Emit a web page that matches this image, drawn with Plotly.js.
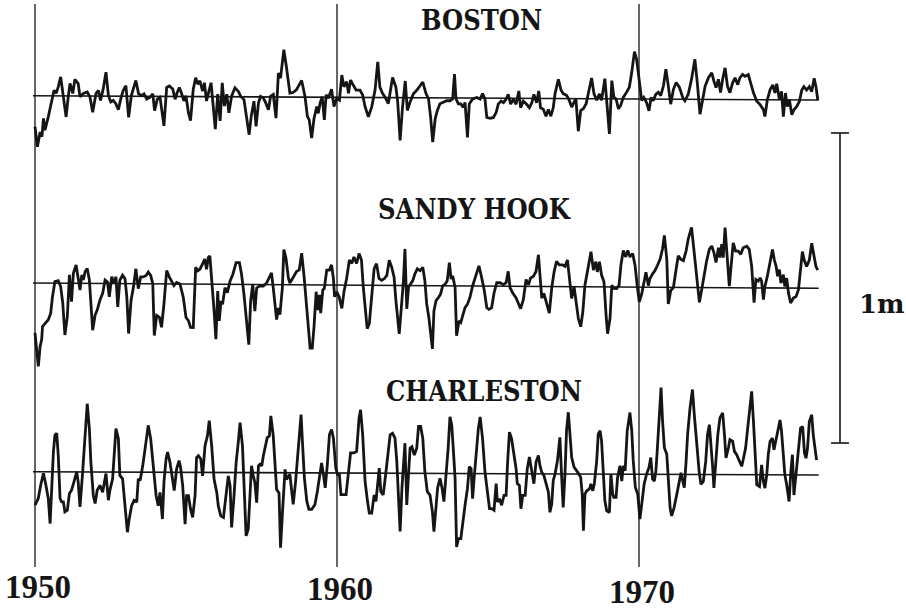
<!DOCTYPE html>
<html><head><meta charset="utf-8">
<script src="https://cdn.plot.ly/plotly-3.0.1.min.js"></script>
<style>html,body{margin:0;padding:0;background:#fff;}#chart{width:906px;height:612px;}</style>
</head><body><div id="chart"></div>
<script>
// ---------- DATA (time in decimal years, monthly mean sea level anomaly in cm) ----------
const stationNames = ['BOSTON', 'SANDY HOOK', 'CHARLESTON'];
const yearTicks = [1950, 1960, 1970];
const scaleLabel = '1m';
const scaleLengthCm = 100;

const bostonT = [
1950.00,1950.08,1950.17,1950.23,1950.28,1950.33,1950.44,1950.55,1950.63,1950.70,
1950.77,1950.85,1950.94,1951.03,1951.10,1951.16,1951.25,1951.32,1951.43,1951.49,
1951.60,1951.73,1951.82,1951.91,1952.02,1952.10,1952.17,1952.26,1952.35,1952.43,
1952.51,1952.59,1952.68,1952.76,1952.84,1952.92,1953.01,1953.10,1953.19,1953.28,
1953.34,1953.43,1953.53,1953.61,1953.70,1953.81,1953.90,1953.96,1954.05,1954.14,
1954.27,1954.36,1954.45,1954.56,1954.64,1954.71,1954.78,1954.86,1954.93,1955.00,
1955.08,1955.15,1955.24,1955.32,1955.39,1955.46,1955.55,1955.61,1955.68,1955.76,
1955.83,1955.88,1955.97,1956.05,1956.13,1956.20,1956.27,1956.35,1956.42,1956.51,
1956.62,1956.73,1956.81,1956.92,1957.01,1957.09,1957.16,1957.25,1957.32,1957.40,
1957.47,1957.56,1957.64,1957.73,1957.80,1957.89,1957.98,1958.06,1958.13,1958.24,1958.33,
1958.44,1958.55,1958.66,1958.83,1958.94,1959.02,1959.08,1959.16,1959.24,1959.33,
1959.38,1959.44,1959.51,1959.58,1959.64,1959.71,1959.82,1959.90,1959.99,1960.08,
1960.16,1960.23,1960.32,1960.38,1960.45,1960.54,1960.63,1960.76,1960.85,1960.93,
1961.04,1961.15,1961.26,1961.35,1961.42,1961.51,1961.59,1961.70,1961.84,1961.95,
1962.01,1962.09,1962.17,1962.26,1962.33,1962.42,1962.53,1962.64,1962.75,1962.84,
1962.95,1963.03,1963.10,1963.17,1963.25,1963.32,1963.41,1963.52,1963.63,1963.74,
1963.83,1963.89,1963.94,1964.02,1964.10,1964.18,1964.24,1964.32,1964.38,1964.49,
1964.63,1964.74,1964.82,1964.90,1964.96,1965.07,1965.18,1965.27,1965.34,1965.43,
1965.51,1965.60,1965.67,1965.75,1965.84,1965.93,1966.02,1966.08,1966.17,1966.28,
1966.37,1966.45,1966.52,1966.61,1966.68,1966.74,1966.83,1966.92,1967.00,1967.08,1967.16,
1967.22,1967.33,1967.42,1967.49,1967.60,1967.69,1967.77,1967.85,1967.91,1967.99,
1968.07,1968.16,1968.25,1968.32,1968.43,1968.51,1968.60,1968.69,1968.76,1968.87,
1968.95,1969.02,1969.10,1969.17,1969.24,1969.32,1969.39,1969.48,1969.59,1969.68,
1969.76,1969.85,1969.92,1970.01,1970.09,1970.16,1970.25,1970.33,1970.40,1970.47,
1970.56,1970.64,1970.72,1970.81,1970.89,1970.97,1971.05,1971.14,1971.23,1971.34,
1971.45,1971.52,1971.63,1971.74,1971.85,1971.93,1972.02,1972.11,1972.19,1972.30,
1972.41,1972.48,1972.55,1972.63,1972.70,1972.77,1972.85,1972.93,1973.01,1973.10,
1973.18,1973.27,1973.34,1973.43,1973.51,1973.62,1973.70,1973.79,1973.90,1974.01,
1974.12,1974.17,1974.25,1974.34,1974.43,1974.50,1974.56,1974.65,1974.72,1974.78,
1974.85,1974.91,1974.98,1975.06,1975.13,1975.22,1975.31,1975.39,1975.46,1975.55,
1975.64,1975.72,1975.80,1975.86,1975.92];
const bostonV = [
-10.0,-16.5,-11.7,-13.2,-7.3,-11.1,-6.8,-1.9,1.8,0.8,
2.9,6.1,-0.9,-6.8,-0.3,4.0,0.8,5.3,4.0,-0.3,
0.8,1.3,-0.3,-5.2,0.8,1.8,-1.4,2.4,7.7,0.2,
-1.9,-1.4,-2.5,-4.4,-0.9,1.8,3.4,-6.8,0.2,2.9,
5.1,0.8,0.2,0.8,-0.9,-0.3,0.8,-4.6,-0.9,-0.3,
-9.5,2.9,3.4,2.4,-0.9,1.3,2.9,0.8,-1.4,0.2,
-5.2,-7.8,2.4,6.1,4.0,5.1,1.8,4.5,-1.4,1.8,
4.5,-0.9,-10.5,0.8,-7.8,4.5,-3.0,0.8,-5.2,0.2,
2.9,1.8,0.2,-0.9,-6.8,-12.2,-6.2,-1.4,-9.5,-1.9,
0.2,-0.3,-1.9,-4.1,0.2,0.8,-6.8,7.7,6.1,15.3,9.4,
1.3,1.5,2.4,5.4,0.2,-6.2,-7.3,-13.2,-6.8,-3.0,
-5.2,-1.9,0.2,-7.3,0.8,-0.3,2.6,-3.0,-0.3,-0.9,
7.2,3.4,5.1,1.3,5.6,4.0,2.4,2.4,0.8,-3.0,
-6.2,-3.0,2.4,11.5,3.4,1.3,0.2,-1.9,6.5,3.4,
-1.4,-13.8,-3.0,5.4,-4.1,-1.4,1.3,2.4,4.0,5.1,
1.3,-0.3,-6.2,-14.3,-6.8,-4.1,-1.9,-1.4,-0.9,-0.9,
-0.3,7.7,-0.3,-1.9,-1.9,-3.0,-1.4,-12.7,-1.9,-0.3,
0.2,-0.3,1.5,-0.3,-6.2,-6.5,-6.2,-4.6,-1.9,-0.9,
-1.4,-0.3,1.3,-1.9,-0.3,-1.9,2.4,-3.0,-0.9,-1.9,
-3.0,-1.4,1.3,-1.4,2.4,-3.0,-3.5,-5.7,-3.5,-5.7,-3.0,
1.6,6.2,2.7,1.6,1.1,-0.5,-2.7,-1.1,0.0,-10.5,
-3.8,-3.2,-1.6,1.6,6.7,1.6,-0.5,1.6,-0.5,6.5,
-2.2,-11.3,5.9,0.5,0.0,-3.2,-2.2,0.5,2.2,3.8,
8.6,15.3,12.9,5.4,-0.5,0.5,-1.1,-3.8,0.5,-0.5,
1.6,2.2,1.1,4.3,9.7,4.3,-1.6,3.2,5.4,3.8,
0.5,-0.5,1.6,6.5,12.9,5.4,-4.8,0.0,4.3,7.0,
8.6,5.9,3.8,6.5,2.2,6.5,10.2,4.3,2.2,5.4,
7.0,4.8,7.0,8.1,7.5,8.1,5.4,2.2,-0.5,-1.6,
-3.2,-5.4,0.0,3.2,4.8,2.2,5.2,0.0,2.7,-5.4,
2.2,-2.2,0.0,-4.8,-3.2,-2.2,-0.5,3.2,4.3,3.2,
4.3,2.7,7.0,4.3,0.0];

const sandyT = [
1950.00,1950.06,1950.11,1950.17,1950.22,1950.25,1950.33,1950.44,1950.52,1950.58,
1950.66,1950.77,1950.85,1950.92,1950.99,1951.07,1951.14,1951.21,1951.27,1951.36,
1951.43,1951.49,1951.55,1951.60,1951.66,1951.73,1951.80,1951.84,1951.91,1951.99,
1952.06,1952.15,1952.24,1952.32,1952.40,1952.46,1952.54,1952.62,1952.68,1952.74,
1952.81,1952.90,1952.98,1953.04,1953.10,1953.18,1953.26,1953.34,1953.42,1953.50,
1953.59,1953.68,1953.75,1953.83,1953.90,1953.95,1954.03,1954.12,1954.19,1954.27,
1954.36,1954.45,1954.53,1954.60,1954.69,1954.80,1954.91,1955.00,1955.08,1955.15,
1955.24,1955.32,1955.39,1955.46,1955.55,1955.62,1955.68,1955.74,1955.79,1955.85,
1955.93,1955.99,1956.05,1956.10,1956.16,1956.21,1956.29,1956.37,1956.46,1956.55,
1956.66,1956.77,1956.84,1956.92,1957.01,1957.08,1957.14,1957.21,1957.28,1957.34,
1957.43,1957.56,1957.67,1957.76,1957.83,1957.89,1957.95,1958.00,1958.06,1958.11,
1958.19,1958.24,1958.31,1958.39,
1958.44,1958.55,1958.66,1958.75,1958.83,1958.91,1958.97,1959.05,1959.11,1959.18,
1959.24,1959.31,1959.36,1959.42,1959.46,1959.53,1959.58,1959.66,1959.75,1959.82,
1959.88,1959.92,1959.99,1960.07,1960.16,1960.23,1960.32,1960.41,1960.49,1960.56,
1960.65,1960.73,1960.81,1960.87,1960.94,1961.00,1961.07,1961.15,1961.23,1961.31,
1961.39,1961.48,1961.57,1961.65,1961.73,1961.81,1961.89,1961.95,1962.01,1962.06,
1962.14,1962.20,1962.25,1962.31,1962.37,1962.44,1962.51,1962.58,1962.66,1962.75,
1962.84,1962.91,1962.97,1963.04,1963.10,1963.16,1963.21,1963.28,1963.36,1963.43,
1963.50,1963.58,1963.65,1963.72,1963.78,1963.83,1963.91,1963.96,1964.04,1964.10,
1964.16,1964.24,1964.32,1964.40,1964.49,1964.60,1964.70,1964.79,1964.88,1964.96,
1965.03,1965.12,1965.20,1965.29,1965.40,1965.51,1965.60,1965.67,1965.73,1965.82,
1965.93,1966.00,1966.08,1966.17,1966.26,1966.34,1966.41,1966.50,1966.59,1966.67,
1966.72,1966.78,1966.85,1966.94,1967.03,
1967.11,1967.19,1967.27,1967.36,1967.47,1967.55,1967.63,1967.69,1967.77,1967.85,
1967.91,1967.99,1968.07,1968.14,1968.21,1968.29,1968.36,1968.41,1968.49,1968.57,
1968.62,1968.69,1968.76,1968.84,1968.91,1968.96,1969.04,1969.10,1969.17,1969.26,
1969.34,1969.40,1969.48,1969.56,1969.63,1969.70,1969.79,1969.87,1969.94,1970.01,
1970.09,1970.17,1970.23,1970.31,1970.36,1970.45,1970.53,1970.61,1970.70,1970.78,
1970.84,1970.92,1970.97,1971.05,1971.14,1971.23,1971.30,1971.38,1971.47,1971.56,
1971.63,1971.74,1971.82,1971.91,1972.00,1972.08,1972.15,1972.24,1972.33,1972.41,
1972.48,1972.55,1972.63,1972.68,1972.74,1972.79,1972.85,1972.93,1972.99,1973.07,
1973.12,1973.20,1973.29,1973.37,1973.45,1973.57,1973.65,1973.73,1973.81,1973.87,
1973.95,1974.01,1974.06,1974.12,1974.17,1974.25,1974.34,1974.42,1974.48,1974.54,
1974.59,1974.65,1974.70,1974.78,1974.83,1974.89,1974.95,1975.02,1975.11,1975.20,
1975.28,1975.33,1975.41,1975.47,1975.55,1975.64,1975.72,1975.80,1975.86,1975.92];
const sandyV = [
-16.1,-22.6,-26.9,-20.4,-18.3,-14.0,-12.9,-11.8,-9.7,-4.3,
0.5,0.8,-1.1,-6.5,-16.7,-10.8,2.7,-5.9,3.2,5.9,
1.6,-2.2,2.7,1.1,3.8,4.8,1.1,-5.4,-15.1,-10.2,
-8.6,-5.4,-3.2,1.1,0.5,-4.3,2.2,0.0,2.2,-7.5,
1.1,2.7,1.6,-4.3,-16.1,-5.4,-1.1,4.8,-1.6,2.2,
2.2,2.7,3.8,2.7,0.0,-16.7,-10.2,-10.8,-14.0,-6.5,
4.3,2.2,0.5,-0.5,0.5,0.0,-4.3,-10.8,-11.8,-14.0,
-14.0,5.4,4.3,4.8,6.5,8.1,4.8,8.6,9.1,2.2,
-8.6,-17.7,-2.2,-11.8,-5.4,-6.5,-1.1,-2.7,1.1,3.2,
7.0,7.0,3.2,-3.2,-11.8,-19.4,-5.4,0.0,-8.6,-1.1,
-0.5,-0.5,0.5,2.7,3.8,-1.1,-7.5,-11.3,-7.5,-9.7,
-1.1,11.3,8.6,2.2,
0.5,2.2,4.3,4.8,10.2,2.7,-4.8,-15.6,-20.4,-20.4,
-13.4,-2.2,-8.1,-3.2,-9.1,-1.6,-1.1,4.8,4.8,6.5,
2.2,-3.8,-2.2,-3.8,-7.5,-2.2,2.2,8.1,7.0,9.1,
7.0,10.2,8.1,-0.5,-9.1,-14.0,-12.4,-3.8,5.4,7.0,
2.2,1.6,2.2,3.2,8.1,5.9,2.7,-4.8,-10.2,-15.6,
-5.9,1.6,11.8,-7.5,-0.5,0.5,1.6,3.8,5.4,4.8,
5.9,1.6,-5.9,-10.2,-14.5,-20.4,-8.1,-4.8,-3.8,-2.7,
0.0,0.5,1.6,7.5,2.2,3.2,-0.5,-16.1,-11.3,-11.8,
-9.7,-7.0,-5.9,-3.8,0.0,3.8,6.5,2.7,-1.6,-7.0,
-7.5,-7.0,-2.2,1.1,1.1,0.5,1.1,4.8,-0.5,-2.2,
-3.8,-5.4,-7.2,-4.3,2.2,0.5,2.7,3.2,4.8,10.2,
3.2,-3.8,-2.2,-5.9,-8.6,
-0.5,4.8,8.1,7.0,7.0,6.5,8.6,2.7,-3.8,0.0,
-3.8,-10.2,-12.9,-8.1,0.5,4.8,8.1,11.3,5.4,8.1,
4.8,8.1,3.8,1.6,-9.1,-15.1,-10.2,0.5,-0.5,-0.5,
0.5,7.0,11.8,9.7,11.8,9.7,10.8,7.0,0.5,-4.8,
-2.2,1.6,4.8,0.5,2.7,4.3,5.4,7.0,9.1,12.4,
16.7,9.1,-5.4,-1.1,0.0,5.9,10.2,9.1,8.6,11.8,
15.6,19.4,11.3,2.7,-4.8,-0.5,3.8,8.6,12.4,13.4,
11.3,8.1,12.9,9.7,14.0,9.7,19.4,10.2,0.5,9.1,
14.5,11.8,11.8,10.8,12.9,13.4,12.4,7.0,-4.8,2.7,
2.2,3.2,2.2,-3.8,0.5,3.8,9.1,12.4,9.1,7.0,
3.8,5.9,1.6,4.3,0.5,3.2,-1.6,-4.8,-3.2,-2.7,
-0.5,4.8,11.8,9.1,7.0,9.1,14.5,10.2,7.0,5.9];

const charlestonT = [
1950.00,1950.11,1950.19,1950.28,1950.36,1950.44,1950.50,1950.55,1950.61,1950.66,
1950.72,1950.77,1950.83,1950.88,1950.94,1950.99,1951.07,1951.14,1951.21,1951.29,
1951.38,1951.43,1951.49,1951.57,1951.63,1951.69,1951.73,1951.80,1951.85,1951.93,
1951.99,1952.06,1952.15,1952.24,1952.28,1952.35,1952.43,1952.48,1952.57,1952.63,
1952.68,1952.76,1952.81,1952.90,1952.98,1953.06,1953.12,1953.20,1953.28,1953.37,
1953.42,1953.48,1953.57,1953.64,1953.70,1953.75,1953.83,1953.92,1954.01,1954.08,
1954.14,1954.22,1954.27,1954.34,1954.39,1954.47,1954.56,1954.61,1954.69,1954.77,
1954.82,1954.89,1954.97,1955.02,1955.08,1955.15,1955.22,1955.30,1955.35,1955.41,
1955.49,1955.55,1955.63,1955.71,1955.77,1955.85,1955.93,1956.02,1956.07,1956.15,
1956.24,1956.32,1956.40,1956.46,1956.51,1956.59,1956.66,1956.73,1956.79,1956.87,
1956.92,1956.99,1957.06,1957.12,1957.17,1957.23,1957.28,1957.34,1957.40,1957.45,
1957.51,1957.56,1957.62,1957.69,1957.76,1957.81,1957.89,1957.95,1958.00,1958.08,
1958.13,1958.20,1958.28,1958.33,1958.39,
1958.44,1958.50,1958.55,1958.63,1958.69,1958.75,1958.81,1958.86,1958.92,1959.00,
1959.07,1959.16,1959.27,1959.35,1959.42,1959.49,1959.55,1959.61,1959.68,1959.75,
1959.82,1959.88,1959.96,1960.02,1960.08,1960.13,1960.30,1960.38,1960.45,1960.56,
1960.65,1960.73,1960.78,1960.85,1960.93,1961.01,1961.07,1961.15,1961.23,1961.29,
1961.35,1961.40,1961.45,1961.53,1961.61,1961.68,1961.76,1961.84,1961.92,1961.98,
1962.04,1962.09,1962.15,1962.20,1962.25,1962.31,1962.36,1962.42,1962.48,1962.56,
1962.64,1962.70,1962.77,1962.84,1962.91,1962.99,1963.08,1963.16,1963.21,1963.27,
1963.33,1963.41,1963.48,1963.54,1963.61,1963.68,1963.74,1963.80,1963.85,1963.91,
1963.96,1964.02,1964.10,1964.16,1964.24,1964.32,1964.38,1964.44,1964.49,1964.54,
1964.60,1964.68,1964.74,1964.82,1964.90,1964.98,1965.05,1965.12,1965.20,1965.27,
1965.31,1965.38,1965.45,1965.53,1965.60,1965.65,1965.71,1965.78,1965.86,1965.93,
1965.97,1966.04,1966.09,1966.15,1966.23,1966.30,1966.37,1966.45,1966.52,1966.59,
1966.67,1966.72,1966.78,1966.85,1966.92,1967.00,1967.05,
1967.11,1967.16,1967.22,1967.30,1967.38,1967.44,1967.49,1967.55,1967.60,1967.66,
1967.72,1967.77,1967.85,1967.94,1968.01,1968.07,1968.12,1968.16,1968.21,1968.27,
1968.36,1968.41,1968.47,1968.52,1968.60,1968.65,1968.71,1968.76,1968.82,1968.87,
1968.93,1969.02,1969.07,1969.13,1969.17,1969.24,1969.29,1969.37,1969.43,1969.48,
1969.54,1969.61,1969.70,1969.76,1969.81,1969.88,1969.96,1970.03,1970.09,1970.17,
1970.25,1970.33,1970.39,1970.45,1970.51,1970.56,1970.61,1970.66,1970.73,1970.78,
1970.84,1970.92,1970.97,1971.03,1971.08,1971.16,1971.25,1971.34,1971.39,1971.45,
1971.50,1971.56,1971.61,1971.69,1971.77,1971.83,1971.91,1971.99,1972.05,1972.13,
1972.21,1972.27,1972.33,1972.38,1972.44,1972.48,1972.54,1972.61,1972.68,1972.77,
1972.83,1972.88,1972.96,1973.01,1973.10,1973.16,1973.23,1973.31,1973.40,1973.45,
1973.53,1973.60,1973.68,1973.73,1973.79,1973.84,1973.90,1973.99,1974.06,1974.12,
1974.17,1974.23,1974.28,1974.34,1974.42,1974.47,1974.53,1974.59,1974.67,1974.72,
1974.78,1974.83,1974.89,1974.97,1975.02,1975.08,1975.13,1975.19,1975.24,1975.30,
1975.35,1975.42,1975.48,1975.53,1975.58,1975.64,1975.72,1975.77,1975.83,1975.88];
const charlestonV = [
-10.8,-8.6,-4.3,-0.5,-4.3,-8.6,-16.7,-5.4,6.5,11.8,
12.4,5.4,-8.6,-9.7,-9.7,-12.9,-12.4,-7.0,-5.9,-3.2,
0.0,-3.2,-11.3,-1.1,6.5,14.0,22.0,14.0,3.2,-7.5,
-10.2,-5.9,-4.3,-6.5,-3.8,-0.5,-9.1,-5.9,-2.2,5.4,
14.0,10.8,-1.1,-2.2,-11.8,-19.4,-15.1,-10.8,-9.1,-9.7,
-2.2,-2.7,2.2,7.5,12.9,15.1,10.8,1.1,-7.5,-10.8,
-6.5,-15.1,-3.2,4.3,6.5,3.2,-2.2,-5.9,1.1,3.8,
1.6,-4.3,-16.7,-7.5,-7.5,-11.8,-14.5,-7.5,4.8,5.4,
4.3,-1.1,8.6,11.8,16.7,8.6,-2.2,-6.5,-10.8,-14.0,
-14.5,-7.5,-1.1,-4.3,-17.7,-7.5,3.2,9.7,16.1,8.6,
-2.2,-20.4,-18.3,-7.5,2.2,-1.1,-3.2,-9.7,2.2,2.7,
2.2,5.4,8.6,11.3,11.8,18.3,11.8,3.2,-5.4,-6.5,
-24.2,-11.8,1.1,-2.2,-1.1,
-0.5,-5.9,-10.2,-2.7,3.8,10.2,18.8,9.1,-1.6,-9.1,
-11.8,-11.8,-10.2,-5.9,-0.5,3.2,-0.5,-4.8,2.7,12.4,
14.0,11.3,1.6,-0.5,-0.5,-7.0,-7.0,0.5,6.5,6.5,
7.0,17.7,20.4,12.4,-2.7,-9.1,-12.9,-12.9,-7.0,-9.1,
-1.6,1.6,-5.9,-7.0,-0.5,4.8,12.4,12.9,11.3,3.8,
-10.8,-18.8,-4.8,3.8,9.7,-10.2,0.5,8.1,8.6,5.9,
8.1,15.1,15.1,11.3,0.5,-5.9,-7.0,-12.4,-18.8,-12.4,
-4.8,-1.6,-4.8,-9.1,-1.6,8.1,18.3,15.6,8.1,-1.6,
-23.7,-21.0,-21.0,-15.6,-10.2,-4.8,2.2,1.6,-8.1,-1.6,
5.9,14.5,18.3,11.3,0.5,-7.0,-11.3,-11.3,-11.8,-3.2,
-9.1,-8.1,-10.2,-7.0,-7.0,3.8,13.4,11.3,5.9,1.6,
-3.2,-3.8,-11.3,-7.0,-7.0,1.6,5.4,1.1,-3.2,3.8,
5.9,2.7,0.5,-0.5,-2.7,-5.9,-12.4,
-9.7,-2.2,0.0,4.3,11.8,-1.1,-10.8,0.0,14.0,19.9,
12.9,5.4,2.2,1.1,0.0,-1.1,-6.5,-18.3,-6.5,-5.4,
-4.8,-3.2,-5.4,-3.2,4.3,12.9,14.0,10.8,-1.1,-8.6,
-11.8,-12.4,0.0,-6.5,-7.5,-7.5,-1.1,2.7,-2.2,2.7,
1.1,14.0,19.9,14.0,4.3,-4.3,-6.5,-14.5,-9.7,-3.2,
0.0,2.2,5.4,-1.6,-2.2,1.1,8.6,17.2,28.0,17.2,
8.6,6.5,-3.2,-10.8,-13.4,-10.8,-6.5,-2.2,0.5,-2.2,
-4.3,4.3,12.9,21.5,27.4,19.4,9.7,1.1,-3.2,-2.2,
4.3,12.9,16.1,10.8,2.2,-4.3,4.3,12.9,18.3,19.9,
12.9,5.4,8.6,11.3,10.8,7.5,6.5,4.8,2.7,4.8,
8.6,15.1,23.7,26.9,17.2,7.5,-3.2,-3.8,3.2,-2.2,
-4.3,0.0,6.5,10.8,11.8,8.1,10.8,14.0,17.7,14.0,
6.5,0.0,-3.2,-8.6,0.0,6.5,-6.5,0.0,4.3,11.8,
15.1,15.6,7.0,5.4,8.6,17.2,19.4,12.9,7.5,4.8];

// ---------- LAYOUT GEOMETRY (pixels of the 906x612 figure) ----------
const W = 906, H = 612;
const PX_PER_YEAR = 30.2, X_1950_PX = 35, PX_PER_CM = 3.1;
const xFromPx = px => 1950 + (px - X_1950_PX) / PX_PER_YEAR;
const yFromPx = py => -py / PX_PER_CM;
const END_YEAR = 1975.95;
// baseline pixel row at 1950 and at the end of each panel (scan is slightly tilted)
const panels = [
  {name: stationNames[0], t: bostonT, v: bostonV, y0px: 95.7, y1px: 100.0, title: [481, 21]},
  {name: stationNames[1], t: sandyT, v: sandyV, y0px: 283.0, y1px: 288.3, title: [474, 209]},
  {name: stationNames[2], t: charlestonT, v: charlestonV, y0px: 471.7, y1px: 475.0, title: [484, 392]}
];
const INK = '#151515';

const traces = [];
const shapes = [];
const annotations = [];
panels.forEach(p => {
  const base0 = yFromPx(p.y0px), base1 = yFromPx(p.y1px);
  const slope = (base1 - base0) / (END_YEAR - 1950);
  traces.push({
    x: p.t, y: p.v.map((val, i) => base0 + slope * (p.t[i] - 1950) + val),
    type: 'scatter', mode: 'lines', line: {color: INK, width: 2.8, shape: 'linear'},
    hoverinfo: 'skip', showlegend: false
  });
  shapes.push({type: 'line', xref: 'x', yref: 'y', x0: xFromPx(33), x1: END_YEAR,
    y0: base0 + slope * (xFromPx(33) - 1950), y1: base1, line: {color: INK, width: 1.6}});
  annotations.push({xref: 'paper', yref: 'paper', x: p.title[0] / W, y: 1 - p.title[1] / H,
    xanchor: 'center', yanchor: 'middle', showarrow: false, text: '<b>' + p.name + '</b>',
    font: {family: 'DejaVu Serif Condensed, DejaVu Serif, serif', size: 27, color: INK}});
});

// decade lines and labels
const labelCenterPx = [587, 589, 592];
yearTicks.forEach((yr, i) => {
  shapes.push({type: 'line', xref: 'x', yref: 'y', x0: yr, x1: yr,
    y0: yFromPx(4), y1: yFromPx(567), line: {color: INK, width: 1.3}});
  annotations.push({xref: 'x', yref: 'y', x: yr, y: yFromPx(labelCenterPx[i]), xshift: 3,
    xanchor: 'center', yanchor: 'middle', showarrow: false, text: '<b>' + yr + '</b>',
    font: {family: 'Liberation Serif, serif', size: 33, color: INK}});
});

// 1 m scale bar
const barX = xFromPx(840), capL = xFromPx(831), capR = xFromPx(849);
const barTop = yFromPx(133), barBot = barTop - scaleLengthCm;
shapes.push({type: 'line', xref: 'x', yref: 'y', x0: barX, x1: barX, y0: barTop, y1: barBot, line: {color: INK, width: 1.6}});
shapes.push({type: 'line', xref: 'x', yref: 'y', x0: capL, x1: capR, y0: barTop, y1: barTop, line: {color: INK, width: 1.6}});
shapes.push({type: 'line', xref: 'x', yref: 'y', x0: capL, x1: capR, y0: barBot, y1: barBot, line: {color: INK, width: 1.6}});
annotations.push({xref: 'x', yref: 'y', x: xFromPx(882), y: yFromPx(304),
  xanchor: 'center', yanchor: 'middle', showarrow: false, text: '<b>' + scaleLabel + '</b>',
  font: {family: 'DejaVu Serif, serif', size: 26, color: INK}});

const layout = {
  width: W, height: H, margin: {l: 0, r: 0, t: 0, b: 0},
  paper_bgcolor: '#fff', plot_bgcolor: '#fff', showlegend: false,
  xaxis: {range: [xFromPx(0), xFromPx(W)], visible: false, fixedrange: true},
  yaxis: {range: [yFromPx(H), yFromPx(0)], visible: false, fixedrange: true},
  shapes: shapes, annotations: annotations
};
Plotly.newPlot('chart', traces, layout, {staticPlot: true, displayModeBar: false});
</script>
</body></html>
